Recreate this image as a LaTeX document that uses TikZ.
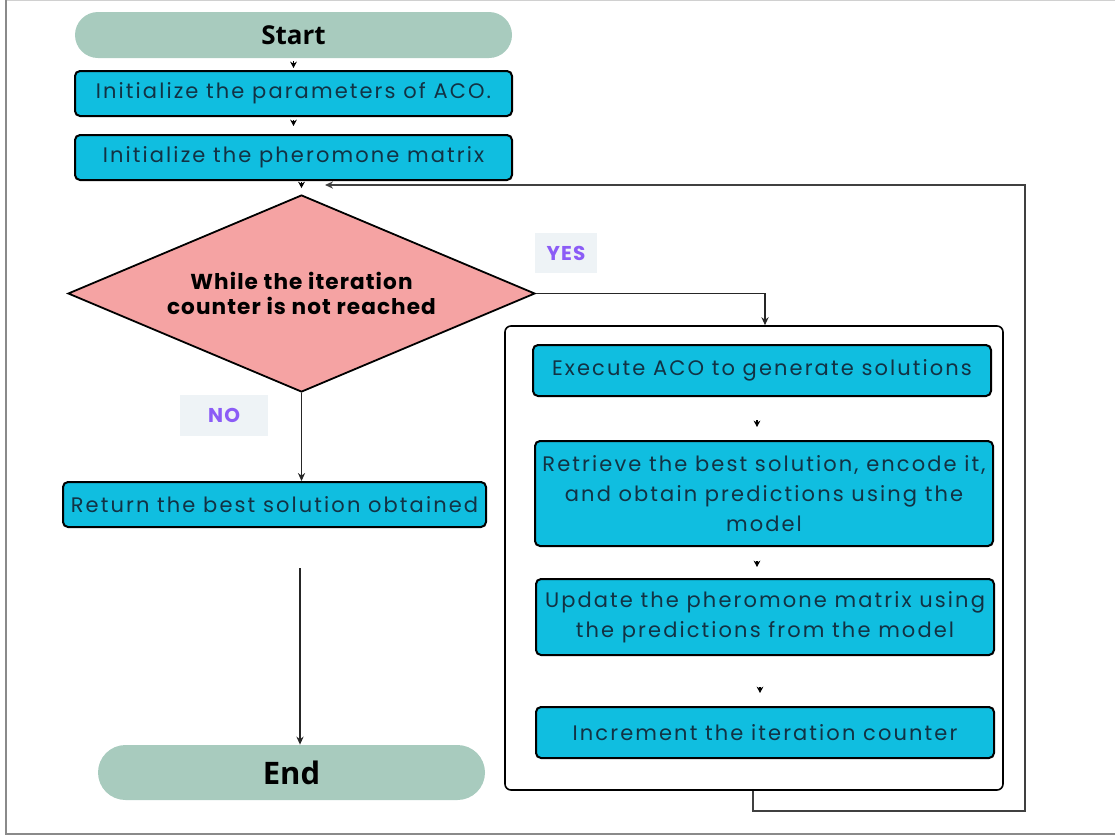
\documentclass[tikz,border=0pt]{standalone}
\usepackage{fontspec}
\setmainfont[LetterSpace=10]{Poppins}
\newfontfamily\termfont{Open Sans}
\usetikzlibrary{arrows.meta,shapes.geometric,calc}
\definecolor{termgreen}{HTML}{A8CBBE}
\definecolor{stepcyan}{HTML}{10BEE0}
\definecolor{steptext}{HTML}{123244}
\definecolor{testpink}{HTML}{F5A3A3}
\definecolor{tagback}{HTML}{EEF3F6}
\definecolor{tagviolet}{HTML}{8B5CF6}
\definecolor{framegrey}{HTML}{8A8A8A}
\tikzset{
	term/.style={fill=termgreen, rounded corners=#1, inner sep=0pt, font=\termfont\bfseries},
	stepbox/.style={draw=black, line width=1pt, fill=stepcyan, rounded corners=2.5pt, text=steptext,
		inner sep=0pt, align=center, font=\fontsize{10.5}{15}\selectfont},
	tag/.style={fill=tagback, text=tagviolet, inner sep=0pt, font=\addfontfeature{LetterSpace=6}\fontsize{10}{11}\selectfont\bfseries},
	link/.style={draw=black!85, line width=0.75pt, -{Stealth[length=4pt,width=3.6pt]}},
	hop/.style={draw=black, line width=0.7pt, -{Stealth[length=3.2pt,width=3.4pt]}}
}
\begin{document}
\begin{tikzpicture}[x=0.5pt, y=-0.5pt]
		%%%%% FRAME %%%%%
		\useasboundingbox (0,0) rectangle (1115,836);
		\draw[framegrey!40, line width=0.8pt] (6,0.5) -- (1115,0.5);
		\draw[framegrey, line width=0.9pt] (6,0) -- (6,834) -- (1115,834);
		
		%%%%% MAIN COLUMN %%%%%
		\node[term=11.5pt, minimum width=218.5pt, minimum height=23pt, font=\termfont\bfseries\fontsize{13}{15}\selectfont] (start) at (293.5,35) {Start};
		\node[stepbox, minimum width=218.5pt, minimum height=22.5pt] (init) at (293.5,93.5) {Initialize the parameters of ACO.};
		\node[stepbox, minimum width=218.5pt, minimum height=22.5pt] (pher) at (293.5,157.5) {Initialize the pheromone matrix};
		\node[diamond, draw=black, line width=0.9pt, fill=testpink, inner sep=0pt, aspect=2.37,
			minimum width=233.5pt, minimum height=98.5pt, align=center,
			font=\addfontfeature{LetterSpace=5}\fontsize{10.8}{12.5}\selectfont\bfseries] (loop) at (301.5,293.5) {While the iteration\\counter is not reached};
		\node[tag, minimum width=44pt, minimum height=20.5pt] (no) at (224,415.5) {NO};
		\node[stepbox, minimum width=211.5pt, minimum height=22.5pt] (ret) at (274.5,504.5) {Return the best solution obtained};
		\node[term=13.75pt, minimum width=193.5pt, minimum height=27.5pt, font=\termfont\bfseries\fontsize{15.5}{17}\selectfont] (end) at (291.5,772.5) {End};
		\coordinate (endin) at (300,568);
		
		%%%%% LOOP BODY %%%%%
		\node[tag, minimum width=31pt, minimum height=20pt] (yes) at (566,253) {YES};
		\node[draw=black, line width=0.8pt, fill=white, rounded corners=3pt, inner sep=0pt,
			minimum width=249pt, minimum height=232pt] (body) at (754,558) {};
		\node[stepbox, minimum width=229pt, minimum height=25.5pt] (exec) at (762,370.5) {Execute ACO to generate solutions};
		\node[stepbox, minimum width=229pt, minimum height=52.5pt] (retr) at (764,493.5) {Retrieve the best solution, encode it,\\and obtain predictions using the\\model};
		\node[stepbox, minimum width=229pt, minimum height=38pt] (upd) at (765,617) {Update the pheromone matrix using\\the predictions from the model};
		\node[stepbox, minimum width=229pt, minimum height=25.5pt] (incr) at (765,732.5) {Increment the iteration counter};
		\coordinate (backin) at (325,185);
		
		%%%%% ARROWS %%%%%
		\draw[hop, shorten <=1.5pt, shorten >=1pt] (start) -- (init);
		\draw[hop, shorten <=1.5pt, shorten >=4pt] (init) -- (pher);
		\draw[hop, shorten <=0.5pt, shorten >=3pt] (pher.south -| loop.north) -- (loop.north);
		\draw[hop, shorten <=11.5pt, shorten >=6.5pt] (exec.south -| 757,0) -- (retr.north -| 757,0);
		\draw[hop, shorten <=7pt, shorten >=5.5pt] (retr.south -| 757,0) -- (upd.north -| 757,0);
		\draw[hop, shorten <=15.5pt, shorten >=6.5pt] (upd.south -| 760,0) -- (incr.north -| 760,0);
		\draw[link] (loop.east) -| ([xshift=5.5pt]body.north);
		\draw[link] (loop.south) -- (loop.south |- ret.north);
		\draw[link] (endin) -- (endin |- end.north);
		\draw[link, draw=black!75, line width=0.85pt] ([xshift=-0.5pt]body.south) -- ++(0,20) -| (1025,185) -- (backin);
		%%%%% END %%%%%
	\end{tikzpicture}
\end{document}
